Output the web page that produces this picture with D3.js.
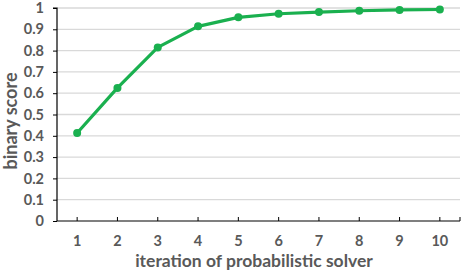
<!DOCTYPE html>
<html><head><meta charset="utf-8">
<script src="https://cdn.jsdelivr.net/npm/d3@7"></script>
<style>body{margin:0;background:#fff}svg{display:block}</style>
</head><body>
<svg id="c" width="463" height="273"></svg>
<script>
const categories = ["1","2","3","4","5","6","7","8","9","10"];
const values = [0.413, 0.625, 0.815, 0.914, 0.956, 0.973, 0.981, 0.987, 0.991, 0.993];
const yTicks = [0,0.1,0.2,0.3,0.4,0.5,0.6,0.7,0.8,0.9,1];
const yTickLabels = ["0","0.1","0.2","0.3","0.4","0.5","0.6","0.7","0.8","0.9","1"];
const xTitle = "iteration of probabilistic solver";
const yTitle = "binary score";

const svg = d3.select("#c");
const font = "Lato, 'Open Sans', sans-serif";
const txt = "#595959";
const L = 57, R = 460, T = 8, B = 221;
const x = d3.scaleBand().domain(categories).range([L, R]);
const y = d3.scaleLinear().domain([0, 1]).range([B, T]);

// gridlines
svg.append("g").selectAll("line").data(yTicks.slice(1)).join("line")
  .attr("x1", L).attr("x2", R).attr("y1", d => y(d)).attr("y2", d => y(d))
  .attr("stroke", "#d9d9d9").attr("stroke-width", 1.3);

// y axis
const ya = svg.append("g").attr("transform", `translate(${L},0)`)
  .call(d3.axisLeft(y).tickValues(yTicks).tickFormat((d,i) => yTickLabels[i]).tickSize(4).tickPadding(9));
ya.select(".domain").attr("stroke", "#000").attr("stroke-width", 1.2).attr("d", `M-4,${T}H0V${B}`);
ya.selectAll(".tick line").attr("stroke", "#000");
ya.selectAll("text").attr("font-family", font).attr("font-weight", "bold").attr("font-size", 14.5).attr("fill", txt);

// x axis
const xa = svg.append("g").attr("transform", `translate(0,${B})`)
  .call(d3.axisBottom(x).tickSize(0).tickPadding(15));
xa.select(".domain").attr("stroke", "#000").attr("stroke-width", 1.2).attr("d", `M${L},0H${R}`);
xa.selectAll("text").attr("font-family", font).attr("font-weight", "bold").attr("font-size", 14.5).attr("fill", txt);
const tickPos = categories.map(c => x(c) + x.bandwidth()/2).concat([R]);
svg.append("g").selectAll("line").data(tickPos).join("line")
  .attr("x1", d => d).attr("x2", d => d).attr("y1", B).attr("y2", B - 4)
  .attr("stroke", "#000").attr("stroke-width", 1);

// line
const cx = (d,i) => x(categories[i]) + x.bandwidth()/2;
svg.append("path").datum(values)
  .attr("d", d3.line().x(cx).y(d => y(d)))
  .attr("fill", "none").attr("stroke", "#1ab04f").attr("stroke-width", 3.2).attr("stroke-linejoin", "round");
svg.append("g").selectAll("circle").data(values).join("circle")
  .attr("cx", cx).attr("cy", d => y(d)).attr("r", 4)
  .attr("fill", "#1ab04f");

// titles
svg.append("text").attr("x", 254).attr("y", 267)
  .attr("text-anchor", "middle").attr("font-family", font).attr("font-weight", "bold")
  .attr("font-size", 17.5).attr("fill", txt).text(xTitle);
svg.append("text").attr("transform", "translate(17,121) rotate(-90)")
  .attr("text-anchor", "middle").attr("font-family", font).attr("font-weight", "bold")
  .attr("font-size", 18).attr("fill", txt).text(yTitle);
</script>
</body></html>
